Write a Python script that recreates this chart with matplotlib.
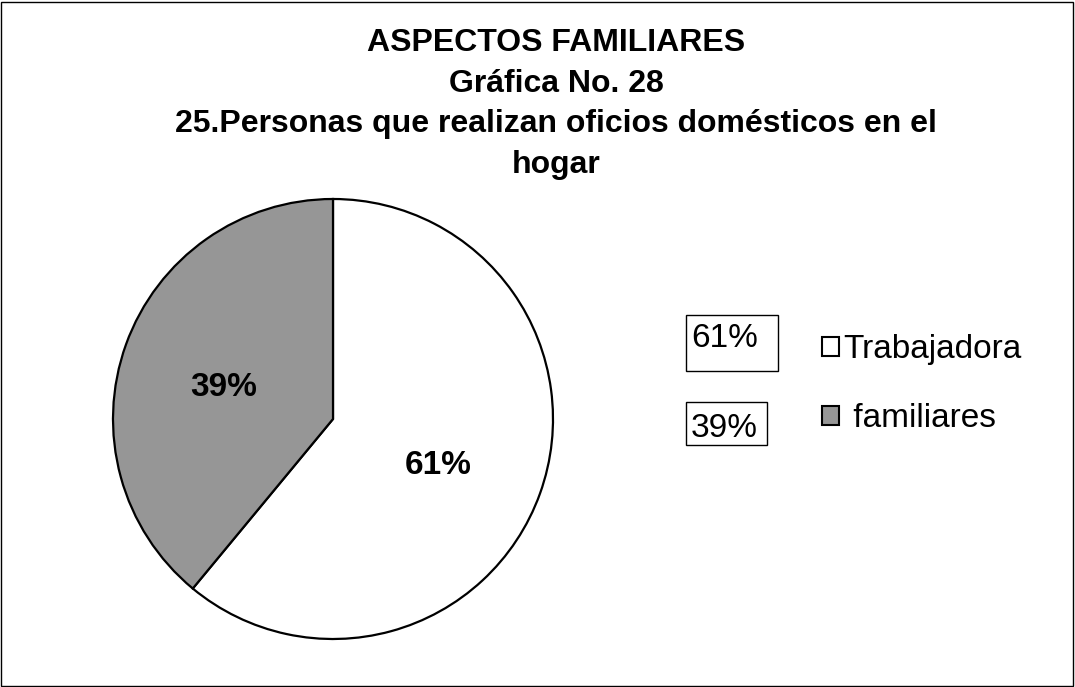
import matplotlib.pyplot as plt
from matplotlib.patches import Rectangle, Patch

plt.rcParams['font.family'] = ['Liberation Sans', 'DejaVu Sans']

# data
categorias = ['Trabajadora', 'familiares']
etiquetas_leyenda = ['Trabajadora', ' familiares']
valores = [61, 39]
colores = ['#ffffff', '#969696']
titulo = 'ASPECTOS FAMILIARES\nGráfica No. 28\n25.Personas que realizan oficios domésticos en el\nhogar'

W, H = 1075, 687
fig = plt.figure(figsize=(W / 100, H / 100), dpi=100)

# outer border
fig.patches.append(Rectangle((1 / W, 1 / H), 1 - 3 / W, 1 - 3 / H, transform=fig.transFigure,
                             fill=False, ec='black', lw=1))

fig.text(556 / W, 1 - 104 / H, titulo, ha='center', va='center', fontsize=23,
         fontweight='bold', linespacing=1.46)

# pie axes: center (333, 419), radius 220 px
ax = fig.add_axes([113 / W, (H - 419 - 220) / H, 440 / W, 440 / H])
wedges, texts, autotexts = ax.pie(valores, colors=colores, startangle=90, counterclock=False,
                                  autopct='%1.0f%%', pctdistance=0.52, radius=1,
                                  wedgeprops=dict(edgecolor='black', linewidth=1.6))
for t in autotexts:
    t.set_fontsize(24)
    t.set_fontweight('bold')
    x, y = t.get_position()
    t.set_position((x - 0.01, y - 0.035))
ax.set_xlim(-1, 1)
ax.set_ylim(-1, 1)
ax.set_aspect('equal')
ax.axis('off')

# boxed percentages beside legend: (x, y, w, h, text baseline)
cajas = [(686, 315, 92, 56, 347), (686, 402, 81, 43, 437)]
for (x, y, w, h, base), v in zip(cajas, valores):
    fig.patches.append(Rectangle((x / W, 1 - (y + h) / H), w / W, h / H, transform=fig.transFigure,
                                 fill=False, ec='black', lw=1))
    fig.text((x + 5) / W, 1 - base / H, f'{v}%', ha='left', va='baseline', fontsize=24)

handles = [Patch(facecolor=c, edgecolor='black', lw=1.5) for c in colores]
fig.legend(handles, etiquetas_leyenda, loc='upper left', bbox_to_anchor=(822 / W, 1 - 334 / H),
           frameon=False, fontsize=24, handlelength=0.5, handleheight=0.5, handletextpad=0.15,
           labelspacing=1.15, borderpad=0, borderaxespad=0)

fig.savefig('out.png', dpi=100)
